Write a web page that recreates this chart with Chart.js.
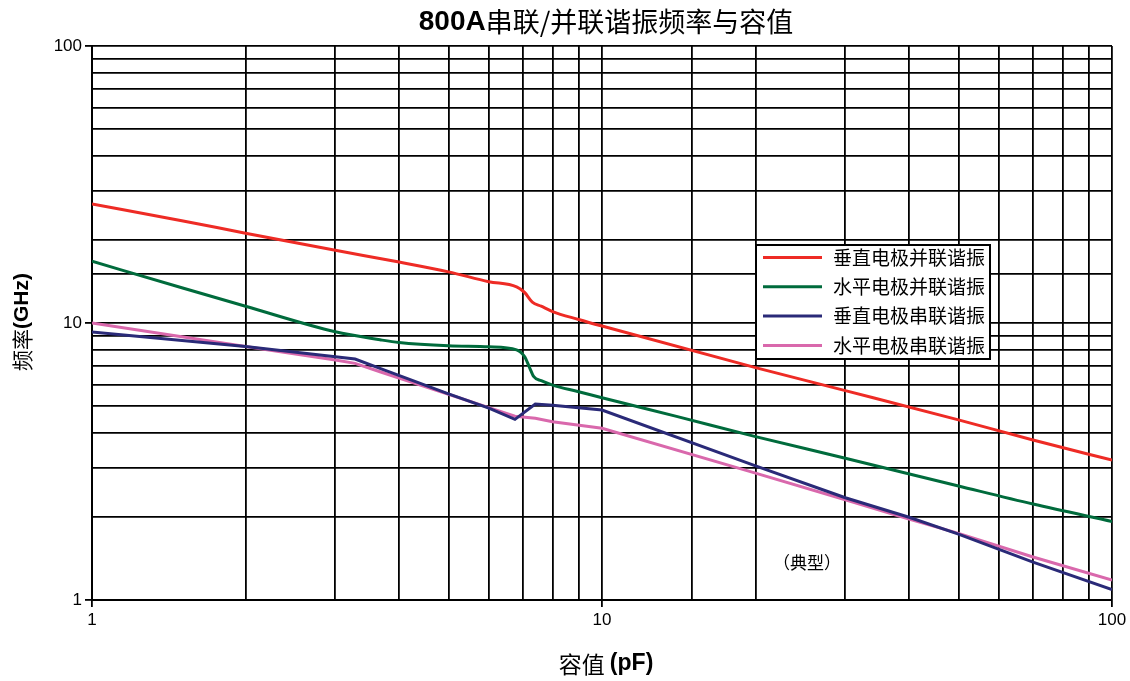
<!DOCTYPE html>
<html>
<head>
<meta charset="utf-8">
<script src="https://cdn.jsdelivr.net/npm/chart.js@4.4.1/dist/chart.umd.min.js"></script>
<style>
    body { margin: 0; background: #fff; }
    #wrap { width: 1130px; height: 681px; }
</style>
</head>
<body>
<div id="wrap"><canvas id="resonance_chart" width="1130" height="681"></canvas></div>
<script>
// capacitance (pF) and frequency (GHz)
const seriesNames = ['垂直电极并联谐振', '水平电极并联谐振', '垂直电极串联谐振', '水平电极串联谐振']

const redCap = [1, 1.5, 2, 3, 4, 5, 6, 6.8, 7.05, 7.3, 7.6, 8, 9, 10, 20, 30, 50, 70, 100]
const redFreq = [26.9, 23.4, 21.1, 18.3, 16.6, 15.3, 14.1, 13.5, 12.9, 11.9, 11.5, 11.0, 10.3, 9.75, 6.9, 5.7, 4.47, 3.78, 3.2]

const greenCap = [1, 1.5, 2, 3, 3.67, 4, 5, 6, 6.8, 7.05, 7.2, 7.35, 7.6, 8, 9, 10, 14, 20, 30, 50, 70, 100]
const greenFreq = [16.7, 13.4, 11.5, 9.3, 8.7, 8.5, 8.28, 8.21, 8.0, 7.56, 6.95, 6.4, 6.19, 5.97, 5.65, 5.37, 4.6, 3.89, 3.25, 2.58, 2.22, 1.92]

const navyCap = [1, 2, 3, 3.28, 3.67, 5, 6, 6.75, 7.4, 8, 10, 20, 30, 40, 50, 70, 100]
const navyFreq = [9.28, 8.22, 7.55, 7.41, 6.86, 5.55, 4.93, 4.49, 5.10, 5.05, 4.85, 3.05, 2.34, 1.99, 1.73, 1.37, 1.09]

const pinkCap = [1, 2, 3, 3.28, 3.67, 5, 6, 6.75, 7.4, 8, 10, 20, 30, 40, 50, 70, 100]
const pinkFreq = [10.0, 8.22, 7.35, 7.15, 6.67, 5.53, 4.95, 4.61, 4.53, 4.40, 4.17, 2.87, 2.3, 1.96, 1.74, 1.43, 1.18]

const decadeLabels = [1, 10, 100]

const cjk = '"Noto Sans CJK SC", sans-serif'
const latin = '"Liberation Sans Narrow", "Liberation Sans", Arial, sans-serif'

const toPoints = (xs, ys) => xs.map((x, i) => ({ x: x, y: ys[i] }))

// draws a row of text pieces with different fonts, centred on x
function drawPieces(ctx, pieces, x, y) {
    let total = 0
    pieces.forEach(p => {
        ctx.font = p[1]
        total += ctx.measureText(p[0]).width
    })
    let cx = x - total / 2
    ctx.textAlign = 'left'
    ctx.textBaseline = 'middle'
    pieces.forEach(p => {
        ctx.font = p[1]
        ctx.fillText(p[0], cx, y)
        cx += ctx.measureText(p[0]).width
    })
}

const decorations = {
    id: 'decorations',
    afterDraw(chart) {
        const ctx = chart.ctx
        ctx.save()
        ctx.fillStyle = '#000'

        drawPieces(ctx, [['800A', 'bold 28px "Liberation Sans", Arial, sans-serif'], ['串联/并联谐振频率与容值', '27px ' + cjk]], 606, 22)
        drawPieces(ctx, [['容值 ', '23px ' + cjk], ['(pF)', 'bold 23px ' + latin]], 606, 664)

        ctx.save()
        ctx.translate(22, 322)
        ctx.rotate(-Math.PI / 2)
        drawPieces(ctx, [['频率', '21px ' + cjk], ['(GHz)', 'bold 21px ' + latin]], 0, 0)
        ctx.restore()

        drawPieces(ctx, [['（典型）', '17px ' + cjk]], 807, 563)

        // legend box
        const bx = 756, by = 245, bw = 234, bh = 114
        ctx.fillStyle = '#fff'
        ctx.fillRect(bx, by, bw, bh)
        ctx.strokeStyle = '#000'
        ctx.lineWidth = 2
        ctx.strokeRect(bx, by, bw, bh)
        chart.data.datasets.forEach((ds, i) => {
            const ly = by + 12.5 + i * 29.3
            ctx.strokeStyle = ds.borderColor
            ctx.lineWidth = 3
            ctx.beginPath()
            ctx.moveTo(763, ly)
            ctx.lineTo(822, ly)
            ctx.stroke()
            ctx.fillStyle = '#000'
            ctx.font = '19px ' + cjk
            ctx.textAlign = 'left'
            ctx.textBaseline = 'middle'
            ctx.fillText(ds.label, 833, ly)
        })
        ctx.restore()
    }
}

const gridStyle = {
    color: '#000',
    lineWidth: 1.8,
    drawTicks: true,
    tickLength: 7,
    tickColor: c => (c.tick && decadeLabels.includes(c.tick.value)) ? '#000' : 'rgba(0,0,0,0)'
}

const tickStyle = {
    autoSkip: false,
    maxRotation: 0,
    color: '#000',
    font: { family: latin, size: 17 },
    callback: value => decadeLabels.includes(value) ? String(value) : ''
}

const data = {
    datasets: [{
        label: seriesNames[0],
        data: toPoints(redCap, redFreq),
        borderColor: '#ee2b25',
        cubicInterpolationMode: 'monotone'
    }, {
        label: seriesNames[1],
        data: toPoints(greenCap, greenFreq),
        borderColor: '#006b3c',
        cubicInterpolationMode: 'monotone'
    }, {
        label: seriesNames[2],
        data: toPoints(navyCap, navyFreq),
        borderColor: '#2a2a78',
        tension: 0
    }, {
        label: seriesNames[3],
        data: toPoints(pinkCap, pinkFreq),
        borderColor: '#d968ac',
        tension: 0
    }]
}

const config = {
    type: 'line',
    data: data,
    options: {
        responsive: false,
        animation: false,
        layout: { padding: { left: 0, right: 18, top: 46, bottom: 0 } },
        elements: {
            point: { radius: 0 },
            line: { borderWidth: 3, fill: false }
        },
        plugins: {
            legend: { display: false },
            title: { display: false },
            tooltip: { enabled: false }
        },
        scales: {
            x: {
                type: 'logarithmic',
                min: 1,
                max: 100,
                grid: gridStyle,
                border: { color: '#000', width: 2 },
                ticks: tickStyle,
                afterFit: scale => { scale.height = 81 }
            },
            y: {
                type: 'logarithmic',
                min: 1,
                max: 100,
                grid: gridStyle,
                border: { color: '#000', width: 2 },
                ticks: tickStyle,
                afterFit: scale => { scale.width = 92 }
            }
        }
    },
    plugins: [decorations]
}

const ctx = document.getElementById('resonance_chart').getContext('2d')
const resonanceChart = new Chart(ctx, config)
</script>
</body>
</html>
